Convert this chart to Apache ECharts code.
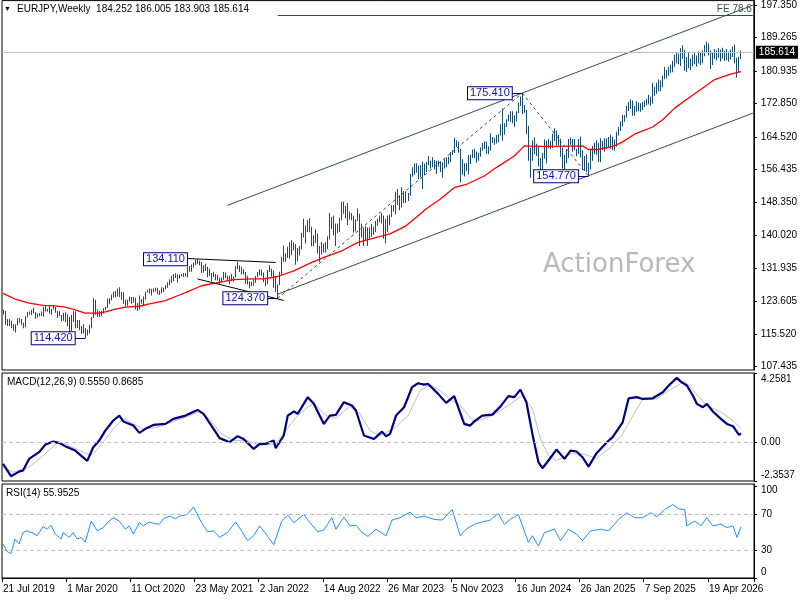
<!DOCTYPE html>
<html>
<head>
<meta charset="utf-8">
<script src="https://cdn.jsdelivr.net/npm/echarts@6/dist/echarts.min.js"></script>
<style>html,body{margin:0;padding:0;background:#fff;}#c{width:800px;height:600px;}</style>
</head>
<body>
<div id="c"></div>
<script>
// ---- weekly EURJPY bars, week 0 = 21 Jul 2019 ----
const highs = [
121.5,121.2,119.2,119.2,118.8,118.0,117.9,119.4,119.5,119.2,
118.3,119.9,121.0,121.1,121.5,122.0,121.0,120.6,120.7,121.1,
122.2,122.6,121.8,122.4,121.7,122.6,122.2,121.2,121.1,120.2,
120.8,120.9,120.4,119.8,120.2,121.2,121.1,119.0,119.0,117.5,
117.9,117.0,116.6,117.8,119.7,124.4,124.0,121.6,121.2,121.3,
121.9,122.3,124.3,124.4,125.3,126.0,126.2,126.8,127.1,126.0,
125.9,124.1,124.0,124.8,124.7,124.7,124.5,123.2,125.1,124.2,
124.8,126.0,126.5,126.8,126.7,126.8,127.0,127.0,126.4,127.1,
127.0,127.6,128.4,129.1,130.0,130.4,130.6,130.3,130.3,130.4,
130.7,130.7,132.2,132.4,132.8,133.3,134.0,134.1,133.7,133.4,
132.6,133.0,132.2,131.7,130.7,131.0,130.4,130.2,129.5,129.6,
130.9,130.8,130.0,130.0,130.5,129.8,132.4,133.5,132.6,132.2,
131.6,130.9,130.0,128.6,128.5,129.1,129.9,130.9,131.6,131.5,
130.8,129.1,131.4,132.6,131.7,131.3,130.0,127.8,131.0,134.7,
137.5,135.6,137.2,138.3,138.8,138.3,137.9,136.9,137.4,140.6,
144.2,142.5,143.8,144.3,142.2,140.0,141.5,140.5,137.4,138.4,
138.0,138.3,139.8,145.6,144.6,145.0,143.0,143.0,144.4,148.4,
148.4,147.4,148.1,146.0,145.6,145.0,144.0,146.7,145.4,142.9,
142.0,142.4,142.0,142.0,142.9,142.2,143.6,144.2,145.0,145.6,
145.0,144.2,145.0,145.2,147.6,147.6,150.9,151.6,150.0,152.0,
151.0,151.0,150.6,155.3,157.0,158.0,158.0,157.4,157.5,158.4,
157.9,158.3,159.8,158.6,159.5,158.8,158.6,158.6,158.5,158.2,
159.0,159.4,159.6,160.8,161.2,164.3,163.7,163.4,161.6,159.0,
158.0,158.0,160.0,160.0,161.4,161.6,160.9,160.6,161.9,163.0,
163.4,163.4,162.2,165.4,164.5,164.3,165.0,165.2,167.7,171.6,
167.9,168.9,170.1,170.9,170.9,169.9,170.9,173.0,174.6,175.41,
172.5,171.3,167.3,161.8,163.7,164.4,162.8,162.4,159.2,160.5,
163.9,163.6,164.0,163.5,165.4,166.7,166.1,165.1,164.1,161.9,
160.0,161.5,164.0,164.4,164.0,164.0,161.5,164.0,164.6,161.2,
159.8,160.2,158.1,161.6,162.3,163.1,163.7,163.0,164.2,163.6,
164.2,164.2,164.5,165.1,164.6,163.9,165.8,167.0,168.4,170.0,
170.0,172.3,173.3,173.9,173.6,172.2,173.4,173.1,172.9,173.2,
173.6,174.0,175.0,174.5,178.0,177.0,178.0,178.8,178.6,179.8,
182.0,181.2,182.0,182.5,183.5,185.0,185.6,185.2,186.6,187.3,
186.2,184.4,185.5,184.0,185.0,185.4,184.8,185.8,185.6,186.0,
187.4,188.2,187.8,186.0,185.6,186.4,186.1,186.6,186.2,186.7,
186.0,186.4,185.8,186.3,187.0,187.5,184.2,184.5,186.005
];
const lows = [
120.4,117.8,117.5,117.5,117.0,116.3,115.9,117.6,118.3,117.7,
116.9,117.2,119.6,120.3,120.2,120.6,119.3,119.6,119.9,120.0,
119.8,121.1,121.1,120.6,120.3,121.6,120.8,119.5,119.9,118.7,
118.8,118.5,117.4,115.9,116.2,118.5,116.9,117.0,116.4,115.5,
115.7,114.42,115.1,115.6,116.9,119.4,120.3,119.8,119.7,119.9,
120.6,121.5,122.0,122.9,123.9,124.6,124.6,124.8,124.7,124.0,
123.0,122.4,122.5,123.6,123.0,123.3,121.6,121.3,121.6,123.0,
122.7,124.0,125.8,125.5,125.1,125.9,126.1,125.4,125.2,125.6,
125.9,126.6,127.0,127.6,128.2,128.6,129.4,128.3,129.3,129.8,
129.7,129.8,129.6,131.0,131.0,132.0,132.6,132.9,132.6,130.7,
130.8,131.2,129.6,129.9,128.6,129.6,128.9,128.8,127.9,128.3,
129.0,129.4,128.6,127.9,128.6,128.5,129.5,131.6,130.9,130.3,
130.3,128.0,127.8,126.9,127.4,127.5,128.2,129.6,130.2,130.0,
128.4,127.4,127.9,130.9,129.8,127.0,126.0,124.37,127.6,130.2,
133.5,133.5,134.4,134.2,135.1,136.3,132.7,133.6,135.0,136.5,
139.5,138.0,140.9,140.8,137.3,137.3,138.2,135.5,133.4,135.3,
135.8,135.8,136.6,139.0,141.6,140.0,137.4,140.6,140.9,143.8,
145.4,144.3,142.6,144.0,143.8,140.7,141.0,143.6,137.4,139.5,
137.4,138.6,137.4,139.2,139.7,140.2,140.9,142.4,143.3,143.0,
139.2,138.0,140.9,142.6,144.6,145.9,145.3,147.6,146.3,147.0,
148.0,148.1,148.6,149.9,154.6,155.1,155.6,154.0,154.5,151.6,
155.0,155.8,157.5,156.7,157.0,156.4,155.3,157.1,155.8,154.4,
156.7,157.0,157.7,158.2,160.0,160.5,162.0,160.6,153.2,155.1,
154.7,156.0,155.2,157.8,159.3,159.2,158.1,158.6,159.6,161.1,
161.5,160.2,160.2,161.1,163.0,162.6,162.9,163.2,164.9,163.6,
165.1,167.0,168.4,168.3,167.9,167.0,168.4,170.5,172.2,170.2,
170.5,165.2,158.6,154.4,158.6,160.3,159.8,157.2,155.9,155.1,
159.1,157.9,161.7,161.5,161.8,163.5,162.4,162.4,159.6,156.7,
156.4,158.0,159.3,162.6,160.9,161.2,159.7,160.3,159.4,156.3,
156.1,155.8,154.77,156.4,158.6,160.3,160.1,158.3,158.2,161.3,
160.9,161.6,161.9,161.6,161.3,161.1,162.1,164.9,166.0,167.2,
168.3,169.3,171.0,171.5,169.8,169.8,170.8,170.9,170.8,171.2,
172.0,172.4,172.6,172.3,172.8,174.8,175.2,175.8,175.9,176.9,
178.9,179.1,179.8,180.5,180.6,182.0,182.8,182.6,182.2,184.0,
181.0,180.7,181.6,181.2,182.1,182.6,182.0,182.8,182.4,182.9,
184.6,185.4,184.8,181.4,182.4,183.9,183.6,184.2,183.3,184.0,
183.4,183.6,183.2,183.8,184.4,182.8,179.3,180.6,183.903
];
const closes = [
120.9,118.0,118.1,117.9,117.1,116.9,117.8,119.3,118.6,117.7,
117.5,119.7,120.9,120.6,120.9,120.8,120.0,119.9,120.6,120.4,
121.6,121.5,121.6,120.9,121.6,122.1,120.9,120.1,120.3,118.9,
120.6,119.0,118.1,117.2,118.8,120.8,117.4,118.4,116.8,116.2,
116.8,115.8,115.9,117.4,119.6,123.6,120.9,120.1,120.0,120.8,
121.6,122.1,123.9,124.0,124.8,125.8,125.4,126.2,125.6,125.9,
123.4,122.7,123.7,124.6,123.5,124.0,122.0,122.4,124.0,123.6,
124.3,125.9,126.2,126.7,126.3,126.2,126.3,125.8,126.0,127.0,
126.9,127.1,128.3,128.9,129.6,130.0,130.2,129.4,129.7,130.1,
130.4,130.0,131.4,132.0,132.6,133.0,133.6,133.5,132.9,131.3,
132.3,131.5,130.7,130.1,130.2,130.3,129.8,129.1,128.6,129.3,
130.4,129.6,128.7,129.8,129.0,129.7,132.1,132.1,131.9,130.3,
130.8,128.2,128.2,127.6,127.9,128.5,129.7,130.9,130.5,130.6,
128.7,127.9,131.3,131.4,130.1,129.9,126.1,127.8,130.1,134.0,
135.0,134.6,136.2,137.8,137.1,137.2,134.7,135.6,136.9,139.6,
141.6,141.4,142.7,141.2,139.1,138.3,139.5,136.3,136.4,137.6,
137.3,136.4,139.2,144.3,143.3,141.6,141.7,141.7,144.0,146.0,
147.5,146.1,145.4,145.4,144.3,141.1,144.0,144.7,141.5,140.6,
139.6,138.9,139.4,141.5,142.2,141.1,143.0,144.0,144.6,143.9,
140.8,142.4,144.7,145.1,147.0,147.5,150.9,148.9,148.6,151.0,
150.5,149.6,150.4,155.0,155.4,157.5,156.0,155.8,157.2,156.9,
156.7,158.2,158.3,158.1,158.4,157.7,157.7,158.0,157.9,157.3,
157.3,158.5,159.0,160.1,161.0,163.0,163.2,161.0,158.7,155.1,
157.2,156.3,158.6,159.7,161.0,160.2,159.7,160.6,161.1,162.7,
162.9,161.1,161.8,163.7,163.3,164.2,163.3,165.0,167.2,164.7,
167.6,168.7,170.1,168.7,168.9,168.4,170.8,172.4,174.2,171.7,
171.0,166.3,161.0,160.7,163.4,162.4,161.6,157.4,156.9,160.2,
159.4,162.7,163.0,162.6,164.5,165.9,164.3,163.3,161.5,158.5,
158.5,161.1,162.9,164.0,162.3,162.0,160.7,163.7,161.0,157.1,
159.4,157.2,156.6,160.0,161.8,161.3,161.5,161.6,162.7,163.3,
163.1,164.0,163.3,163.0,161.9,163.4,165.3,166.3,168.0,169.5,
169.6,171.5,172.8,172.5,170.8,172.0,172.2,172.5,171.7,172.6,
173.0,174.0,174.3,172.9,175.9,175.4,177.7,178.3,177.9,179.2,
180.3,180.8,181.1,181.6,182.8,184.4,184.0,183.4,185.8,184.6,
182.4,183.9,182.2,183.2,184.5,183.1,183.8,185.1,183.0,185.5,
186.9,186.5,185.2,182.6,185.1,184.6,185.6,184.8,185.5,184.5,
185.3,184.2,185.0,185.6,186.2,183.4,181.0,184.25,185.614
];
// red moving average, read as [week, value]
const maPoints = [[0,125.6],[6,124.2],[13,123.2],[20,122.6],[26,122.5],[31,122.2],[36,121.5],[41,120.7],[48,120.7],[51,121.0],[56,121.7],[61,122.2],[68,122.4],[73,123.0],[81,123.8],[88,125.2],[92,126.0],[99,127.5],[107,128.3],[115,129.0],[124,129.2],[130,129.2],[137,129.8],[145,131.2],[154,133.3],[160,134.55],[169,136.2],[177,138.3],[183,139.1],[193,140.4],[201,142.4],[206,144.5],[211,146.6],[218,149.0],[225,151.9],[231,152.7],[240,154.8],[246,156.9],[255,159.8],[260,162.3],[266,162.2],[276,162.2],[289,162.3],[292,161.4],[297,161.4],[305,162.3],[309,163.3],[315,165.2],[324,167.0],[329,168.8],[335,171.7],[342,174.2],[349,176.7],[355,178.8],[362,180.0],[368,180.8]];
// MACD main line and signal line
const macdPoints = [[0,-1.31],[4,-2.06],[8,-1.78],[10,-1.71],[13,-1.0],[18,-0.59],[21,-0.14],[25,0.06],[28,-0.02],[31,-0.22],[36,-0.49],[42,-1.12],[45,-0.29],[48,0.12],[51,0.73],[55,1.35],[58,1.65],[60,1.29],[65,1.04],[68,0.59],[71,0.84],[75,1.08],[81,1.14],[85,1.45],[91,1.65],[97,2.0],[100,1.76],[105,0.84],[108,0.27],[113,0.02],[117,0.39],[120,0.22],[125,-0.39],[128,-0.08],[131,-0.08],[135,0.12],[136,-0.35],[140,0.43],[142,1.65],[145,1.9],[147,1.76],[152,2.78],[155,2.37],[160,1.14],[163,1.65],[166,1.69],[170,2.47],[174,2.27],[176,1.96],[180,0.43],[185,0.22],[186,0.33],[189,0.67],[191,0.39],[193,0.53],[196,1.65],[200,2.16],[204,3.39],[207,3.63],[210,3.55],[212,3.59],[217,2.98],[221,2.43],[225,2.84],[230,1.14],[233,1.04],[235,1.29],[239,1.65],[244,1.71],[248,2.2],[252,2.84],[255,2.78],[258,3.24],[261,2.47],[264,0.53],[267,-1.2],[269,-1.57],[272,-1.10],[276,-0.43],[280,-1.0],[283,-0.49],[286,-0.55],[289,-0.9],[292,-1.47],[296,-0.65],[301,0.0],[304,0.33],[309,1.24],[312,2.71],[316,2.78],[319,2.67],[324,2.71],[329,3.08],[332,3.49],[336,3.96],[338,3.73],[341,3.49],[344,2.88],[346,2.37],[349,2.16],[351,2.37],[354,1.90],[358,1.45],[361,1.14],[364,1.0],[367,0.47],[368,0.555]];
const signalPoints = [[0,-1.51],[5,-1.82],[13,-1.51],[20,-0.8],[27,-0.02],[31,-0.08],[40,-0.59],[44,-0.80],[48,-0.29],[55,0.84],[60,1.45],[65,1.14],[70,0.84],[77,0.94],[85,1.29],[91,1.55],[98,1.90],[103,1.45],[108,0.63],[115,0.12],[122,0.12],[128,-0.18],[136,-0.08],[141,0.73],[146,1.55],[151,2.06],[155,2.43],[161,1.65],[166,1.49],[173,2.22],[178,1.76],[183,0.73],[188,0.43],[195,0.84],[202,1.65],[208,3.18],[213,3.53],[218,3.18],[223,2.63],[228,2.27],[235,1.24],[244,1.65],[252,2.27],[259,2.88],[264,2.06],[268,0.22],[272,-0.80],[276,-1.10],[283,-0.69],[289,-0.69],[296,-0.96],[303,-0.29],[309,0.53],[316,2.06],[319,2.63],[326,2.67],[332,3.18],[340,3.76],[345,3.08],[351,2.27],[358,1.86],[364,1.35],[368,0.8685]];
// RSI(14)
const rsiPoints = [[0,37.2],[2,29],[4,26.4],[6,42.5],[8,37.2],[10,49.6],[12,51.4],[15,48.9],[17,46.1],[20,56.1],[22,53.2],[24,57.5],[26,47.9],[29,42.5],[30,49.6],[33,44.3],[35,49.6],[37,42.5],[39,44.3],[41,38.9],[44,62.1],[47,51.4],[50,55],[52,60.4],[55,65.7],[58,62.1],[61,53.2],[63,56.8],[65,47.9],[68,60.4],[70,56.8],[73,61.1],[75,59.6],[78,58.6],[80,64.6],[83,67.5],[86,64.6],[88,67.5],[92,69.3],[95,77.5],[99,60.4],[102,50.4],[105,51.4],[108,44.3],[112,49.6],[116,61.1],[119,51.4],[122,40.7],[125,46.1],[128,56.8],[132,45.4],[135,36.4],[139,62.1],[142,68.6],[145,60.4],[150,69.3],[153,60.4],[157,50.4],[160,52.5],[164,65.7],[166,53.2],[170,66.4],[173,56.8],[176,57.5],[179,49.6],[182,45.4],[186,53.2],[191,46.1],[194,63.2],[198,65.7],[203,71.8],[206,65.7],[210,67.5],[215,63.9],[219,63.2],[224,74.6],[228,46.1],[231,53.2],[235,58.6],[239,61.1],[243,63.2],[247,70.4],[250,58.6],[253,63.9],[257,69.3],[262,38.9],[264,46.1],[267,34.7],[270,49.6],[275,53.2],[278,40.7],[282,53.2],[286,47.9],[289,40.7],[293,51.4],[298,53.2],[302,51.4],[307,63.9],[311,71.1],[315,65.7],[319,65.7],[323,71.1],[326,66.8],[330,74.6],[334,80.0],[337,75.4],[340,74.6],[341,56.8],[345,62.1],[348,56.8],[351,65.7],[354,56.8],[358,58.6],[361,55],[364,56.8],[366,44.3],[368,55.95]];
// chart objects: swing labels, trend channel, wedge and FE level
const swingLabels = [[36,114.42,'114.420'],[92,134.11,'134.110'],[132,124.37,'124.370'],[254,175.41,'175.410'],[287,154.77,'154.770']];
const connectors = [[36,41,114.42],[132,137,124.37],[254,259,175.41],[287,292,154.77]];
const channelLower = [[137,125.4],[374,170.45]];
const channelUpper = [[112,147.5],[374,197.3]];
const wedgeUpper = [[91,134.3],[136,133.3]];
const wedgeLower = [[97,129.2],[140,123.85]];
const swingPath = [[137,124.37],[259,175.41],[292,154.77]];
const feLevel = 194.9;
const lastPrice = 185.614;
// axis ticks
const priceTicks = [197.350,189.265,180.935,172.850,164.520,156.435,148.350,140.020,131.935,123.605,115.520,107.435];
const macdTicks = [-2.3537, 0, 4.2581];
const rsiTicks = [0, 30, 70, 100];
const rsiLevels = [30, 70];
const tickLabels = ['21 Jul 2019','1 Mar 2020','11 Oct 2020','23 May 2021','2 Jan 2022','14 Aug 2022','26 Mar 2023','5 Nov 2023','16 Jun 2024','26 Jan 2025','7 Sep 2025','19 Apr 2026'];

const N = closes.length;
const SHIFT = 6; // empty weeks at the right edge
const cats = [];
const d0 = Date.UTC(2019, 6, 21);
for (let i = 0; i < N + SHIFT; i++) {
  cats.push(new Date(d0 + i * 7 * 86400000).toISOString().slice(0, 10));
}
const barData = closes.map((c, i) => [i, highs[i], lows[i], c]);

const FONT = 'Liberation Sans, Arial, sans-serif';
const BAR = '#1b4d6b';
const SLATE = '#2f4f4f';

const chart = echarts.init(document.getElementById('c'), null, {renderer: 'canvas'});

function seg(a, b, style) {
  return [{coord: a, lineStyle: style}, {coord: b}];
}
const objStyle = {color: SLATE, width: 1, type: 'solid'};
const blackStyle = {color: '#000', width: 1, type: 'solid'};
const dashStyle = {color: '#3a4a4a', width: 1, type: [3, 3]};

const markLines = [
  seg(channelLower[0], channelLower[1], objStyle),
  seg(channelUpper[0], channelUpper[1], objStyle),
  seg(wedgeUpper[0], wedgeUpper[1], blackStyle),
  seg(wedgeLower[0], wedgeLower[1], blackStyle),
  seg(swingPath[0], swingPath[1], dashStyle),
  seg(swingPath[1], swingPath[2], dashStyle),
  [{coord: [137, feLevel], lineStyle: objStyle,
    label: {show: true, position: 'insideEndTop', formatter: 'FE 78.6', color: SLATE, fontSize: 10, fontFamily: FONT, distance: 1}},
   {coord: [N + SHIFT - 1, feLevel]}],
  {yAxis: lastPrice, lineStyle: {color: '#c0c0c0', width: 1, type: 'solid'},
   label: {show: true, position: 'end', distance: 2, formatter: lastPrice.toFixed(3), color: '#fff', backgroundColor: '#000', padding: [2, 3, 1, 3], fontSize: 10, fontFamily: FONT}}
].concat(connectors.map(c => seg([c[0], c[2]], [c[1], c[2]], {color: '#000080', width: 1, type: 'solid'})));

function edgeLabel(text, top, bottom) {
  if (top) return '{t|' + text + '}';
  if (bottom) return '{b|' + text + '}';
  return '{m|' + text + '}';
}
function rich(shiftTop, shiftBottom) {
  const base = {fontSize: 10, fontFamily: FONT, color: '#000'};
  return {
    t: Object.assign({padding: [shiftTop, 0, 0, 0]}, base),
    b: Object.assign({padding: [0, 0, shiftBottom, 0]}, base),
    m: base
  };
}

const gridBase = {left: 2, width: 752, show: true, borderColor: '#000', borderWidth: 1, containLabel: false};
const hiddenX = (g) => ({type: 'category', gridIndex: g, data: cats, boundaryGap: true,
  axisLine: {show: false}, axisTick: {show: false}, axisLabel: {show: false}, splitLine: {show: false}});

const option = {
  animation: false,
  backgroundColor: '#fff',
  title: [
    {text: '▼', left: 4, top: 6, padding: 0, textStyle: {fontSize: 7, color: '#000', fontWeight: 'normal'}},
    {text: 'EURJPY,Weekly  184.252 186.005 183.903 185.614', left: 17, top: 4, padding: 0,
     textStyle: {fontSize: 10, color: '#000', fontWeight: 'normal', fontFamily: FONT}},
    {text: 'ActionForex', left: 543, top: 252, padding: 0,
     textStyle: {fontSize: 26, color: '#b8b8b8', fontWeight: 'normal', fontFamily: 'DejaVu Sans, sans-serif'}},
    {text: 'MACD(12,26,9) 0.5550 0.8685', left: 7, top: 377, padding: 0,
     textStyle: {fontSize: 10, color: '#000', fontWeight: 'normal', fontFamily: FONT}},
    {text: 'RSI(14) 55.9525', left: 6, top: 488, padding: 0,
     textStyle: {fontSize: 10, color: '#000', fontWeight: 'normal', fontFamily: FONT}}
  ],
  grid: [
    Object.assign({top: 0, height: 370}, gridBase),
    Object.assign({top: 373, height: 108}, gridBase),
    Object.assign({top: 484, height: 94}, gridBase)
  ],
  xAxis: [
    hiddenX(0),
    hiddenX(1),
    {type: 'category', gridIndex: 2, data: cats, boundaryGap: true,
     axisLine: {show: true, lineStyle: {color: '#000'}},
     axisTick: {show: true, interval: 31, length: 4, lineStyle: {color: '#000'}},
     axisLabel: {show: true, interval: 31, align: 'left', margin: 6, fontSize: 10, fontFamily: FONT, color: '#000',
       formatter: (v, idx) => tickLabels[Math.round(idx / 32)] || ''},
     splitLine: {show: false}}
  ],
  yAxis: [
    {type: 'value', gridIndex: 0, position: 'right', min: 106.54, max: 198.44, scale: true,
     axisLine: {show: true, lineStyle: {color: '#000'}},
     axisTick: {show: true, length: 3, customValues: priceTicks, lineStyle: {color: '#000'}},
     axisLabel: {show: true, customValues: priceTicks, margin: 7, fontSize: 10, fontFamily: FONT, color: '#000',
       formatter: v => v.toFixed(3)},
     splitLine: {show: false}},
    {type: 'value', gridIndex: 1, position: 'right', min: macdTicks[0], max: macdTicks[2],
     axisLine: {show: true, lineStyle: {color: '#000'}},
     axisTick: {show: true, length: 3, customValues: macdTicks, lineStyle: {color: '#000'}},
     axisLabel: {show: true, customValues: macdTicks, showMinLabel: true, showMaxLabel: true, margin: 7,
       fontSize: 10, fontFamily: FONT, color: '#000', rich: rich(12, 12),
       formatter: v => edgeLabel(v === 0 ? '0.00' : v.toFixed(4), v === macdTicks[2], v === macdTicks[0])},
     splitLine: {show: false}},
    {type: 'value', gridIndex: 2, position: 'right', min: 0, max: 102.5,
     axisLine: {show: true, lineStyle: {color: '#000'}},
     axisTick: {show: true, length: 3, customValues: rsiTicks, lineStyle: {color: '#000'}},
     axisLabel: {show: true, customValues: rsiTicks, showMinLabel: true, showMaxLabel: true, margin: 7,
       fontSize: 10, fontFamily: FONT, color: '#000', rich: rich(8, 12),
       formatter: v => edgeLabel(String(v), v === 100, v === 0)},
     splitLine: {show: false}}
  ],
  series: [
    {
      name: 'EURJPY', type: 'custom', xAxisIndex: 0, yAxisIndex: 0, clip: true,
      data: barData,
      encode: {x: 0, y: [1, 2]},
      renderItem: function (params, api) {
        const i = api.value(0);
        const top = api.coord([i, api.value(1)]);
        const bot = api.coord([i, api.value(2)]);
        return {type: 'rect',
          shape: {x: Math.floor(top[0]), y: top[1], width: 1, height: Math.max(1, bot[1] - top[1])},
          style: {fill: BAR}};
      }
    },
    {
      name: 'MA', type: 'line', xAxisIndex: 0, yAxisIndex: 0, data: maPoints,
      symbol: 'none', smooth: false, lineStyle: {color: '#ff0000', width: 1.3},
      markLine: {silent: true, symbol: ['none', 'none'], animation: false, label: {show: false}, data: markLines},
      markPoint: {
        silent: true, symbol: 'circle', symbolSize: 1, itemStyle: {color: 'rgba(0,0,0,0)'},
        label: {show: true, position: 'left', distance: 0, formatter: p => p.name,
          backgroundColor: '#fff', borderColor: '#000080', borderWidth: 1, padding: [1, 2, 0, 2],
          color: '#1414a0', fontSize: 11, fontFamily: FONT},
        data: swingLabels.map(s => ({name: s[2], coord: [s[0], s[1]]}))
      }
    },
    {
      name: 'Signal', type: 'line', xAxisIndex: 1, yAxisIndex: 1, data: signalPoints,
      symbol: 'none', lineStyle: {color: '#c0c0c0', width: 1}
    },
    {
      name: 'MACD', type: 'line', xAxisIndex: 1, yAxisIndex: 1, data: macdPoints,
      symbol: 'none', lineStyle: {color: '#000080', width: 2.2},
      markLine: {silent: true, symbol: ['none', 'none'], label: {show: false},
        lineStyle: {color: '#c0c0c0', type: [4, 3], width: 1}, data: [{yAxis: 0}]}
    },
    {
      name: 'RSI', type: 'line', xAxisIndex: 2, yAxisIndex: 2, data: rsiPoints,
      symbol: 'none', lineStyle: {color: '#1e90ff', width: 1},
      markLine: {silent: true, symbol: ['none', 'none'], label: {show: false},
        lineStyle: {color: '#c0c0c0', type: [4, 3], width: 1}, data: rsiLevels.map(v => ({yAxis: v}))}
    }
  ]
};
chart.setOption(option);
</script>
</body>
</html>
